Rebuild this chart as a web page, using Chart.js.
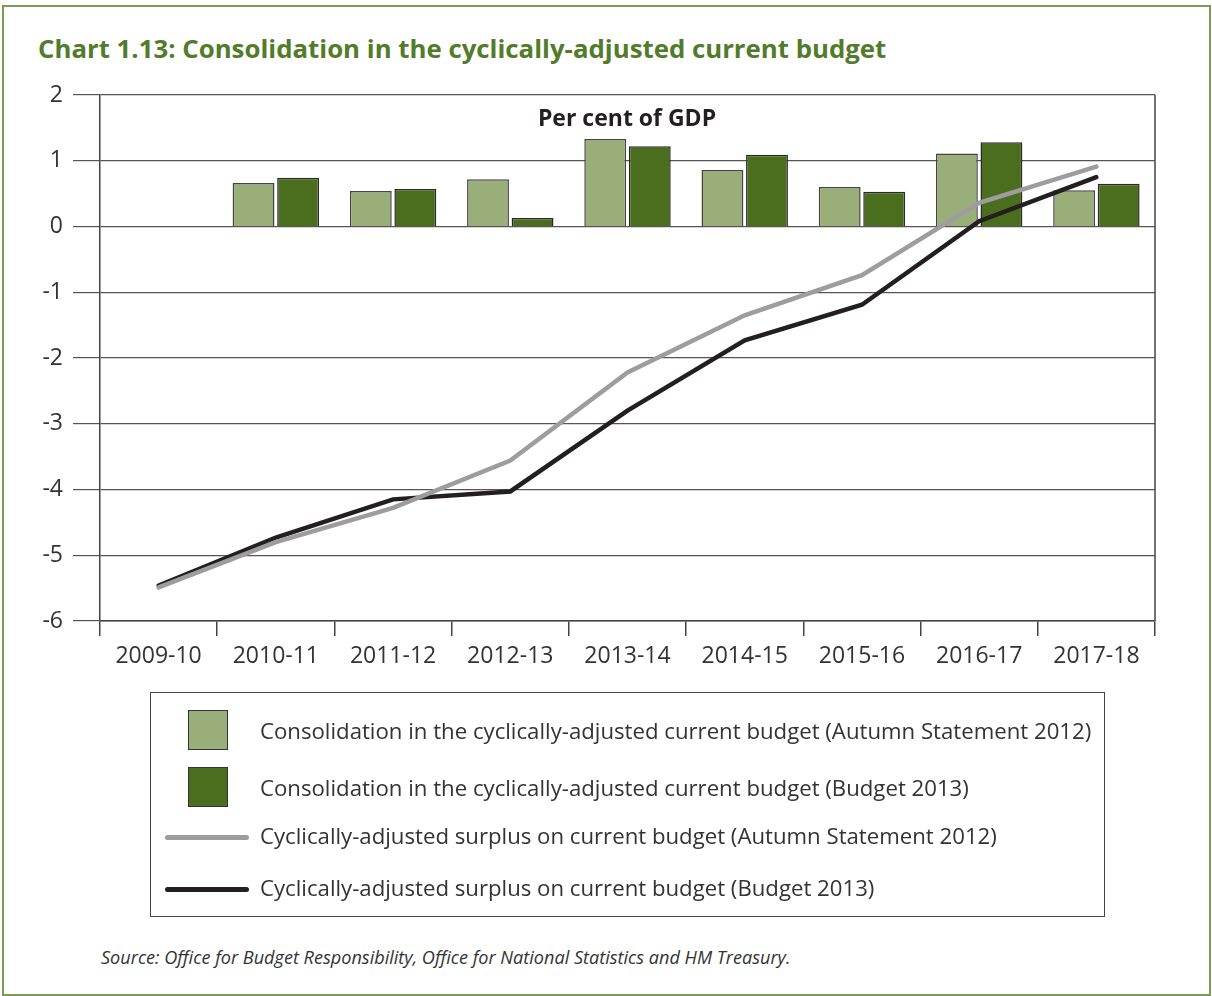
<!DOCTYPE html>
<html>
<head>
<meta charset="utf-8">
<script src="https://cdn.jsdelivr.net/npm/chart.js@4/dist/chart.umd.min.js"></script>
<style>
    body { margin: 0; background: #fff; font-family: 'Open Sans', sans-serif; color: #333; }
    #frame { position: absolute; left: 2px; top: 5px; width: 1205px; height: 987px; border: 2px solid #7d9c53; }
    #title { position: absolute; left: 38px; top: 30px; font-size: 25.8px; font-weight: bold; color: #527b2a; white-space: nowrap; }
    #wrap { position: absolute; left: 0; top: 0; width: 1212px; height: 700px; }
    #unit { position: absolute; left: 0; width: 1254px; top: 101px; text-align: center; font-size: 23px; font-weight: bold; color: #231f20; }
    #legend { position: absolute; left: 150px; top: 692px; width: 953px; height: 223px; border: 1.5px solid #444; }
    .item { position: absolute; left: 0; height: 40px; width: 100%; }
    .box { position: absolute; left: 37px; top: 0; width: 38px; height: 38px; border: 1.5px solid #333; }
    .ln { position: absolute; left: 14px; width: 84px; height: 5px; border-radius: 3px; }
    .txt { position: absolute; left: 109px; font-size: 22.2px; color: #333; white-space: nowrap; line-height: 40px; }
    #source { position: absolute; left: 101px; top: 945px; font-size: 18.1px; font-style: italic; color: #333; white-space: nowrap; }
</style>
</head>
<body>
<div id="frame"></div>
<div id="title">Chart 1.13: Consolidation in the cyclically-adjusted current budget</div>
<div id="wrap"><canvas id="chart" width="1212" height="700"></canvas></div>
<div id="unit">Per cent of GDP</div>
<div id="legend"></div>
<div id="source">Source: Office for Budget Responsibility, Office for National Statistics and HM Treasury.</div>

<script>
// data (per cent of GDP)
const categories = ['2009-10', '2010-11', '2011-12', '2012-13', '2013-14', '2014-15', '2015-16', '2016-17', '2017-18'];
const consolidationAS2012 = [null, 0.66, 0.54, 0.72, 1.33, 0.86, 0.60, 1.11, 0.55];
const consolidationB2013 = [null, 0.74, 0.57, 0.13, 1.22, 1.09, 0.53, 1.28, 0.65];
const surplusAS2012 = [-5.49, -4.80, -4.28, -3.56, -2.22, -1.35, -0.74, 0.36, 0.91];
const surplusB2013 = [-5.46, -4.73, -4.15, -4.03, -2.80, -1.73, -1.19, 0.08, 0.75];
const yMin = -6;
const yMax = 2;
const yStep = 1;

const legendLabels = [
    'Consolidation in the cyclically-adjusted current budget (Autumn Statement 2012)',
    'Consolidation in the cyclically-adjusted current budget (Budget 2013)',
    'Cyclically-adjusted surplus on current budget (Autumn Statement 2012)',
    'Cyclically-adjusted surplus on current budget (Budget 2013)'
];

const lightGreen = '#9aae7a';
const darkGreen = '#4a6e1d';
const greyLine = '#9d9d9f';
const blackLine = '#231f20';

// right-hand frame of the plot area
const rightBorder = {
    id: 'rightBorder',
    beforeDatasetsDraw(chart) {
        const { ctx, chartArea } = chart;
        ctx.save();
        ctx.strokeStyle = '#444';
        ctx.lineWidth = 1.5;
        ctx.beginPath();
        ctx.moveTo(chartArea.right, chartArea.top);
        ctx.lineTo(chartArea.right, chartArea.bottom);
        ctx.stroke();
        ctx.restore();
    }
};

const ctx = document.getElementById('chart').getContext('2d');
const chart = new Chart(ctx, {
    type: 'bar',
    data: {
        labels: categories,
        datasets: [
            {
                type: 'line',
                label: legendLabels[2],
                data: surplusAS2012,
                borderColor: greyLine,
                borderWidth: 4.5,
                borderCapStyle: 'round',
                pointRadius: 0,
                tension: 0,
                order: 0
            },
            {
                type: 'line',
                label: legendLabels[3],
                data: surplusB2013,
                borderColor: blackLine,
                borderWidth: 4.5,
                borderCapStyle: 'round',
                pointRadius: 0,
                tension: 0,
                order: 0
            },
            {
                label: legendLabels[0],
                data: consolidationAS2012,
                backgroundColor: lightGreen,
                borderColor: '#444',
                borderWidth: 1.5,
                categoryPercentage: 0.76,
                barPercentage: 0.94,
                order: 1
            },
            {
                label: legendLabels[1],
                data: consolidationB2013,
                backgroundColor: darkGreen,
                borderColor: '#2a2a2a',
                borderWidth: 1.5,
                categoryPercentage: 0.76,
                barPercentage: 0.94,
                order: 1
            }
        ]
    },
    options: {
        responsive: false,
        animation: false,
        layout: { padding: { top: 95, right: 57, left: 0, bottom: 0 } },
        plugins: {
            legend: { display: false },
            tooltip: { enabled: false },
            title: { display: false }
        },
        scales: {
            x: {
                offset: true,
                afterFit(scale) { scale.height = 79; },
                grid: {
                    offset: true,
                    drawOnChartArea: false,
                    tickLength: 15,
                    color: '#444',
                    lineWidth: 1.5
                },
                border: { display: true, color: '#444', width: 1.5 },
                ticks: {
                    color: '#333',
                    padding: 7,
                    font: { family: "'Open Sans', sans-serif", size: 23 }
                }
            },
            y: {
                min: yMin,
                max: yMax,
                afterFit(scale) { scale.width = 100; },
                grid: {
                    tickLength: 27,
                    color: '#555',
                    lineWidth: 1.2
                },
                border: { display: true, color: '#444', width: 1.5 },
                ticks: {
                    stepSize: yStep,
                    color: '#333',
                    padding: 10,
                    font: { family: "'Open Sans', sans-serif", size: 23 }
                }
            }
        }
    },
    plugins: [rightBorder]
});

// legend (html)
const legend = document.getElementById('legend');
const legendRows = [
    { top: 17, kind: 'box', color: lightGreen },
    { top: 74, kind: 'box', color: darkGreen },
    { top: 124, kind: 'line', color: greyLine },
    { top: 176, kind: 'line', color: blackLine }
];
legendRows.forEach((row, i) => {
    const item = document.createElement('div');
    item.className = 'item';
    item.style.top = row.top + 'px';
    let marker;
    if (row.kind === 'box') {
        marker = `<div class="box" style="background:${row.color}"></div>`;
    } else {
        marker = `<div class="ln" style="top:18px;background:${row.color}"></div>`;
    }
    const textTop = row.kind === 'box' ? 1 : -1;
    item.innerHTML = marker + `<div class="txt" style="top:${textTop}px">${legendLabels[i]}</div>`;
    legend.appendChild(item);
});
</script>
</body>
</html>
